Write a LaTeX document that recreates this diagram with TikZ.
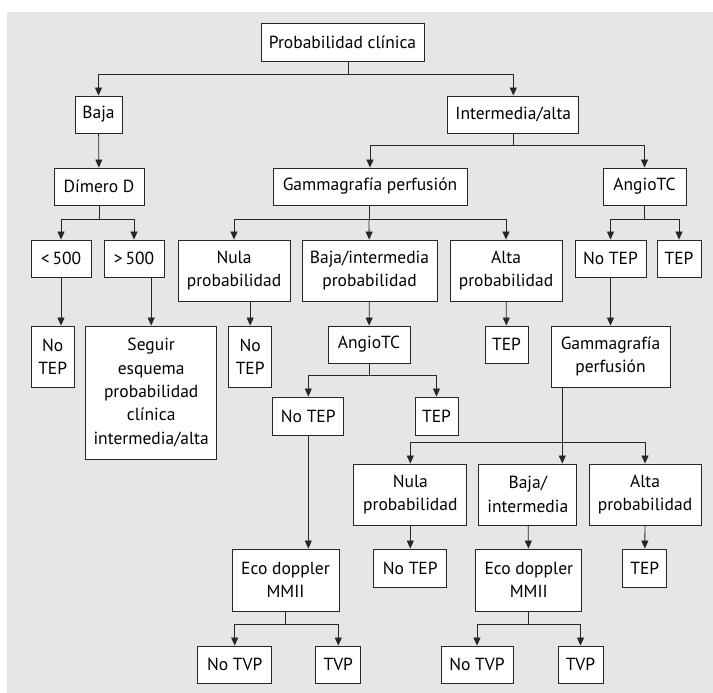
\documentclass[tikz,border=0pt]{standalone}
\usepackage{fontspec}
\setmainfont{PT Sans}
\usepackage{xcolor}
\definecolor{panel}{HTML}{E6E6E6}
\definecolor{ink}{HTML}{262626}
\usepackage{tikz}
\usetikzlibrary{arrows.meta}
\tikzset{
    box/.style = {draw=ink, fill=white, line width=0.9pt, align=center,
                  inner sep=0pt, font=\fontsize{17.5}{23.3}\selectfont},
    line/.style = {line width=0.8pt, color=ink},
    arrow/.style = {-{Triangle[length=8pt, width=7pt]}, line width=0.8pt, color=ink},
}
\begin{document}
\begin{tikzpicture}[x=1pt, y=-1pt]
        \useasboundingbox (0,0) rectangle (713,693);
        \fill[panel] (7,12) rectangle (713,693);
        % level 1
        \node[box, minimum width=163, minimum height=38] (prob) at (342.5,42) {Probabilidad clínica};
        \node[box, minimum width=47, minimum height=37] (baja) at (98.5,114.5) {Baja};
        \node[box, minimum width=131, minimum height=37] (inter) at (513.3,114.5) {Intermedia/alta};
        % level 2
        \node[box, minimum width=90, minimum height=37] (dimero) at (99,186.5) {Dímero D};
        \node[box, minimum width=194, minimum height=37] (gamm) at (370,186.5) {Gammagrafía perfusión};
        \node[box, minimum width=83, minimum height=37] (angio) at (644.5,186.5) {AngioTC};
        % level 3
        \node[box, minimum width=60, minimum height=37] (lt) at (61,258.5) {<\,500};
        \node[box, minimum width=60, minimum height=37] (gt) at (134,258.5) {>\,500};
        \node[box, minimum width=112, minimum height=61] (nula) at (234,270.5) {Nula\\probabilidad};
        \node[box, minimum width=135, minimum height=61] (bi) at (369.5,270.5) {Baja/intermedia\\probabilidad};
        \node[box, minimum width=112, minimum height=61] (alta) at (506,270.5) {Alta\\probabilidad};
        \node[box, minimum width=71, minimum height=37] (notepA) at (610.5,258.5) {No TEP};
        \node[box, minimum width=44, minimum height=37] (tepA) at (679,258.5) {TEP};
        % level 4
        \node[box, minimum width=43, minimum height=61] (notepB) at (52.7,356.5) {No\\TEP};
        \node[box, minimum width=131, minimum height=133] (seguir) at (151.2,392.5) {Seguir\\esquema\\probabilidad\\clínica\\intermedia/alta};
        \node[box, minimum width=43, minimum height=61] (notepC) at (250.2,356.5) {No\\TEP};
        \node[box, minimum width=82, minimum height=37] (angioB) at (369,344.5) {AngioTC};
        \node[box, minimum width=43, minimum height=37] (tepB) at (506.5,344.5) {TEP};
        \node[box, minimum width=119, minimum height=61] (gammB) at (610.5,356.5) {Gammagrafía\\perfusión};
        % level 5
        \node[box, minimum width=71, minimum height=38] (notepD) at (308.3,416) {No TEP};
        \node[box, minimum width=43, minimum height=38] (tepC) at (436.5,416) {TEP};
        \node[box, minimum width=113, minimum height=61] (nulaB) at (410.3,494.5) {Nula\\probabilidad};
        \node[box, minimum width=98, minimum height=61] (biB) at (527.8,494.5) {Baja/\\intermedia};
        \node[box, minimum width=112, minimum height=61] (altaB) at (645,494.5) {Alta\\probabilidad};
        % level 6
        \node[box, minimum width=107, minimum height=62] (ecoA) at (285.5,580) {Eco doppler\\MMII};
        \node[box, minimum width=73, minimum height=38] (notepE) at (410.3,568) {No TEP};
        \node[box, minimum width=106, minimum height=62] (ecoB) at (528.8,580) {Eco doppler\\MMII};
        \node[box, minimum width=44, minimum height=38] (tepD) at (644.8,568) {TEP};
        % level 7
        \node[box, minimum width=74, minimum height=37] (notvpA) at (234.7,664.5) {No TVP};
        \node[box, minimum width=45, minimum height=37] (tvpA) at (338.3,664.5) {TVP};
        \node[box, minimum width=72, minimum height=37] (notvpB) at (477,664.5) {No TVP};
        \node[box, minimum width=45, minimum height=37] (tvpB) at (580.5,664.5) {TVP};
        % junctions
        \coordinate (j0) at (348,74);
        \coordinate (j1) at (99,219);
        \coordinate (j2) at (513.3,145.7);
        \coordinate (j3) at (369,219);
        \coordinate (j4) at (644.5,219);
        \coordinate (j5) at (369,375.7);
        \coordinate (j6) at (562.3,442.3);
        \coordinate (j7) at (285.5,624);
        \coordinate (j8) at (528.8,624);
        % connectors
        \draw[line] (j0 |- prob.south) -- (j0);
        \draw[arrow] (j0) -| (baja);
        \draw[arrow] (j0) -| (inter);
        \draw[arrow] (baja) -- (dimero);
        \draw[line] (dimero) -- (j1);
        \draw[arrow] (j1) -| (lt);
        \draw[arrow] (j1) -| (gt);
        \draw[line] (inter) -- (j2);
        \draw[arrow] (j2) -| (gamm);
        \draw[arrow] (j2) -| (angio);
        \draw[line] (j3 |- gamm.south) -- (j3);
        \draw[arrow] (j3) -| (nula);
        \draw[arrow] (j3) -- (bi);
        \draw[arrow] (j3) -| (alta);
        \draw[line] (angio) -- (j4);
        \draw[arrow] (j4) -| (notepA);
        \draw[arrow] (j4) -| (tepA);
        \draw[arrow] (lt) -- (lt |- notepB.north);
        \draw[arrow] (seguir |- gt.south) -- (seguir);
        \draw[arrow] (notepC |- nula.south) -- (notepC);
        \draw[arrow] (bi) -- (angioB);
        \draw[arrow] (alta) -- (tepB);
        \draw[arrow] (notepA) -- (gammB);
        \draw[line] (angioB) -- (j5);
        \draw[arrow] (j5) -| (notepD);
        \draw[arrow] (j5) -| (tepC);
        \draw[arrow] (notepD) -- (notepD |- ecoA.north);
        \draw[line] (j6 |- gammB.south) -- (j6);
        \draw[arrow] (j6) -| (nulaB);
        \draw[arrow] (j6) -- (j6 |- biB.north);
        \draw[arrow] (j6) -| (altaB);
        \draw[arrow] (nulaB) -- (notepE);
        \draw[arrow] (biB) -- (ecoB);
        \draw[arrow] (altaB) -- (tepD);
        \draw[line] (ecoA) -- (j7);
        \draw[arrow] (j7) -| (notvpA);
        \draw[arrow] (j7) -| (tvpA);
        \draw[line] (ecoB) -- (j8);
        \draw[arrow] (j8) -| (notvpB);
        \draw[arrow] (j8) -| (tvpB);
      \end{tikzpicture}
\end{document}
